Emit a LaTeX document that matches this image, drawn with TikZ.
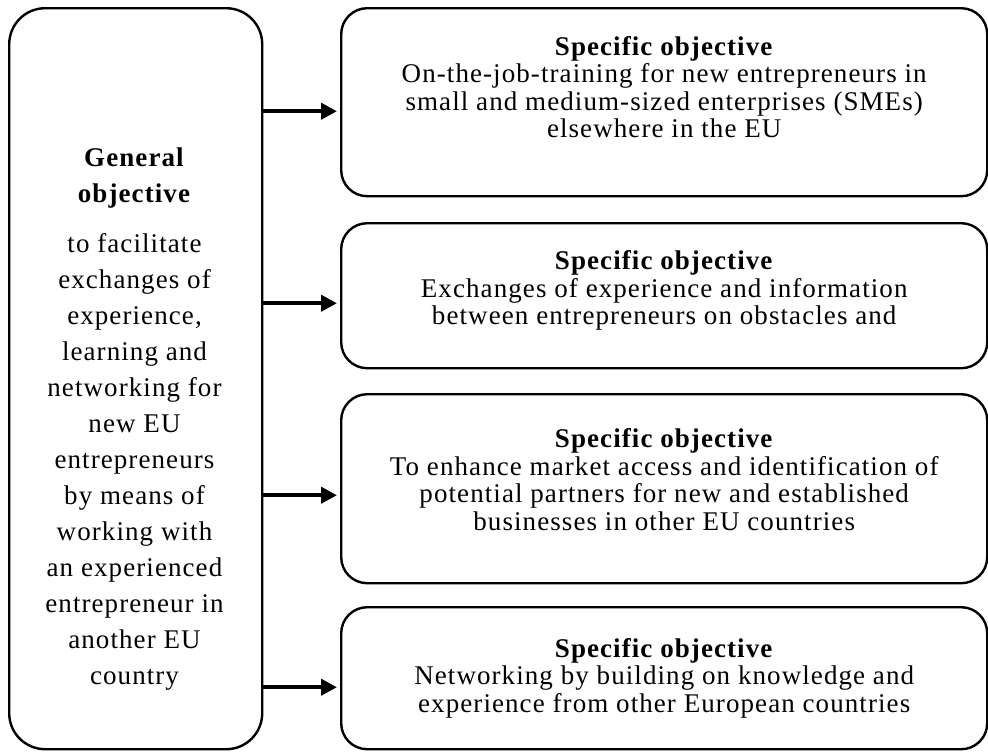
\documentclass[tikz,border=0pt]{standalone}
\usepackage{fontspec}
\setmainfont[LetterSpace=4]{Liberation Serif}
\usetikzlibrary{arrows.meta, positioning}
\tikzset{
  genbox/.style={draw, line width=1.2pt, rounded corners=18pt, minimum width=126.5pt, minimum height=370.5pt, inner sep=0pt, anchor=north west},
  specbox/.style={draw, line width=1.2pt, rounded corners=13pt, minimum width=323pt, inner sep=0pt, anchor=north west},
  gentext/.style={align=center, inner sep=0pt, font=\fontsize{13.5}{18}\selectfont},
  spectext/.style={align=center, inner sep=0pt, font=\fontsize{13.5}{13.75}\selectfont},
  arr/.style={line width=2pt, -{Triangle[length=8pt, width=8pt]}, shorten >=1.5pt}
}

\begin{document}
\begin{tikzpicture}[x=0.5pt, y=-0.5pt]
        \useasboundingbox (0,0) rectangle (988,751);

        % General objective
        \node[genbox] (gen) at (8,7) {};
        \node[gentext] (gentxt) at (134.5,419) {\textbf{General}\\ \textbf{objective}\\[7pt]
            to facilitate\\ exchanges of\\ experience,\\ learning and\\ networking for\\ new EU\\
            entrepreneurs\\ by means of\\ working with\\ an experienced\\ entrepreneur in\\ another EU\\ country};

        % Specific objectives
        \node[specbox, minimum height=94pt] (spec1) at (340,7) {};
        \node[specbox, minimum height=72.5pt] (spec2) at (340,222) {};
        \node[specbox, minimum height=94.5pt] (spec3) at (340,393) {};
        \node[specbox, minimum height=71pt] (spec4) at (340,606) {};

        \node[spectext] (txt1) at ([yshift=7.5pt]spec1.center) {\textbf{Specific objective}\\
            On-the-job-training for new entrepreneurs in\\ small and medium-sized enterprises (SMEs)\\ elsewhere in the EU};
        \node[spectext] (txt2) at ([yshift=2.5pt]spec2.center) {\textbf{Specific objective}\\
            Exchanges of experience and information\\ between entrepreneurs on obstacles and};
        \node[spectext] (txt3) at ([yshift=4.5pt]spec3.center) {\textbf{Specific objective}\\
            To enhance market access and identification of\\ potential partners for new and established\\ businesses in other EU countries};
        \node[spectext] (txt4) at ([yshift=0pt]spec4.center) {\textbf{Specific objective}\\
            Networking by building on knowledge and\\ experience from other European countries};

        % Arrows
        \foreach \i/\dy in {1/4.5, 2/3.75, 3/3.25, 4/4.5} {
            \draw[arr] ([yshift=-\dy pt]spec\i.west -| gen.east) -- ([yshift=-\dy pt]spec\i.west);
        }
\end{tikzpicture}
\end{document}
